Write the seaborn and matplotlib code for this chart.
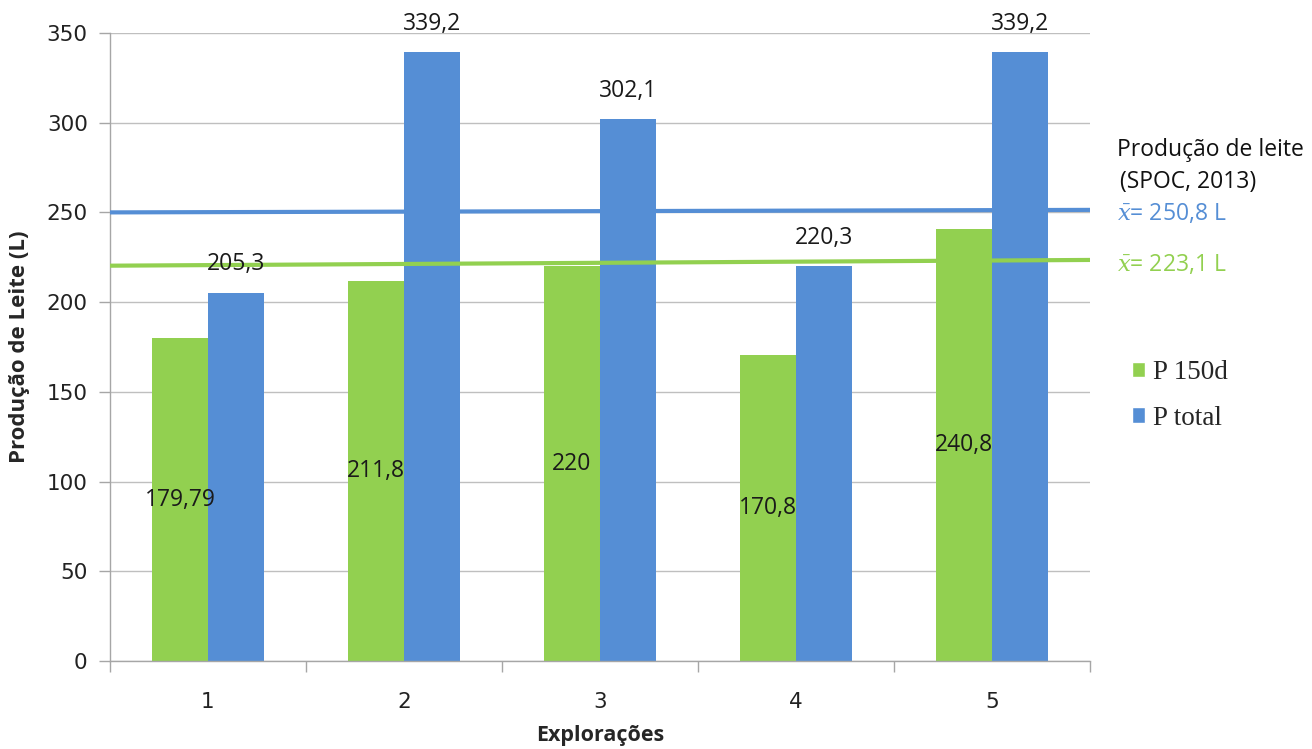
import matplotlib
matplotlib.use("Agg")
import matplotlib.pyplot as plt
from matplotlib.patches import Patch
from matplotlib.ticker import FixedLocator, NullFormatter
import seaborn as sns
import pandas as pd

# Milk production per farm (litres)
exploracoes = ["1", "2", "3", "4", "5"]
p_150d = [179.79, 211.8, 220.0, 170.8, 240.8]
p_total = [205.3, 339.2, 302.1, 220.3, 339.2]
labels_150d = ["179,79", "211,8", "220", "170,8", "240,8"]
labels_total = ["205,3", "339,2", "302,1", "220,3", "339,2"]

# Reference means (SPOC, 2013), drawn across the plot from left to right edge
media_total_ends = [250.0, 251.4]
media_150d_ends = [220.3, 223.5]
media_total_txt = "250,8"
media_150d_txt = "223,1"

green = "#92D050"
blue = "#558ED5"

sns.set_theme(style="white")
plt.rcParams["font.family"] = ["DejaVu Sans"]
plt.rcParams["mathtext.fontset"] = "dejavuserif"

df = pd.DataFrame({
    "Exploração": exploracoes * 2,
    "Produção": p_150d + p_total,
    "Série": ["P 150d"] * 5 + ["P total"] * 5,
})

fig = plt.figure(figsize=(13.12, 7.49), dpi=100)
ax = fig.add_axes([0.0838, 0.1175, 0.7470, 0.8385])

sns.barplot(data=df, x="Exploração", y="Produção", hue="Série",
            palette=[green, blue], width=0.572, gap=0, saturation=1,
            linewidth=0, legend=False, ax=ax, zorder=2)

ax.set_xlim(-0.5, 4.5)
ax.set_ylim(0, 350)
ax.set_yticks(range(0, 351, 50))
ax.yaxis.grid(True, color="#BFBFBF", linewidth=1.0, zorder=0)
ax.set_axisbelow(True)

for s in ["top", "right"]:
    ax.spines[s].set_visible(False)
for s in ["left", "bottom"]:
    ax.spines[s].set_color("#A6A6A6")
    ax.spines[s].set_linewidth(1.0)

ax.tick_params(axis="y", which="major", left=True, length=8, width=1,
               color="#A6A6A6", labelsize=15.5, pad=8, labelcolor="#222222")
ax.tick_params(axis="x", which="major", bottom=False, labelsize=15.5, pad=16,
               labelcolor="#222222")
ax.xaxis.set_minor_locator(FixedLocator([-0.5, 0.5, 1.5, 2.5, 3.5, 4.5]))
ax.xaxis.set_minor_formatter(NullFormatter())
ax.tick_params(axis="x", which="minor", bottom=True, length=8, width=1,
               color="#A6A6A6")

ax.set_xlabel("Explorações", fontsize=15.5, fontweight="bold",
              family="Open Sans", labelpad=10)
ax.set_ylabel("Produção de Leite (L)", fontsize=16, fontweight="bold",
              family="Open Sans", labelpad=12)

# Mean reference lines
ax.plot([-0.5, 4.5], media_total_ends, color=blue, linewidth=3, zorder=3,
        solid_capstyle="butt")
ax.plot([-0.5, 4.5], media_150d_ends, color=green, linewidth=3, zorder=3,
        solid_capstyle="butt")

# Value labels
off = 0.572 / 4
for i in range(len(exploracoes)):
    ax.text(i - off, p_150d[i] / 2, labels_150d[i], ha="center", va="center",
            fontsize=16.5, family="Open Sans", color="#1a1a1a", zorder=4)
    ax.text(i + off, p_total[i] + 9, labels_total[i], ha="center",
            va="bottom", fontsize=16.5, family="Open Sans", color="#1a1a1a",
            zorder=4)

# Right-hand annotations
fig.text(0.851, 0.800, "Produção de leite", fontsize=16.5, family="Open Sans",
         color="#111111", va="center")
fig.text(0.854, 0.757, "(SPOC, 2013)", fontsize=16.5, family="Open Sans",
         color="#111111", va="center")
fig.text(0.851, 0.714, r"$\bar{x}$= " + media_total_txt + " L", fontsize=16.5,
         family="Open Sans", color=blue, va="center")
fig.text(0.851, 0.646, r"$\bar{x}$= " + media_150d_txt + " L", fontsize=16.5,
         family="Open Sans", color=green, va="center")

handles = [Patch(facecolor=green, label="P 150d"),
           Patch(facecolor=blue, label="P total")]
fig.legend(handles=handles, loc="center left", bbox_to_anchor=(0.844, 0.472),
           frameon=False, prop={"family": "Liberation Serif", "size": 19.5},
           handlelength=0.5, handleheight=0.5, handletextpad=0.3,
           labelspacing=0.75)

fig.savefig("out.png", dpi=100)
